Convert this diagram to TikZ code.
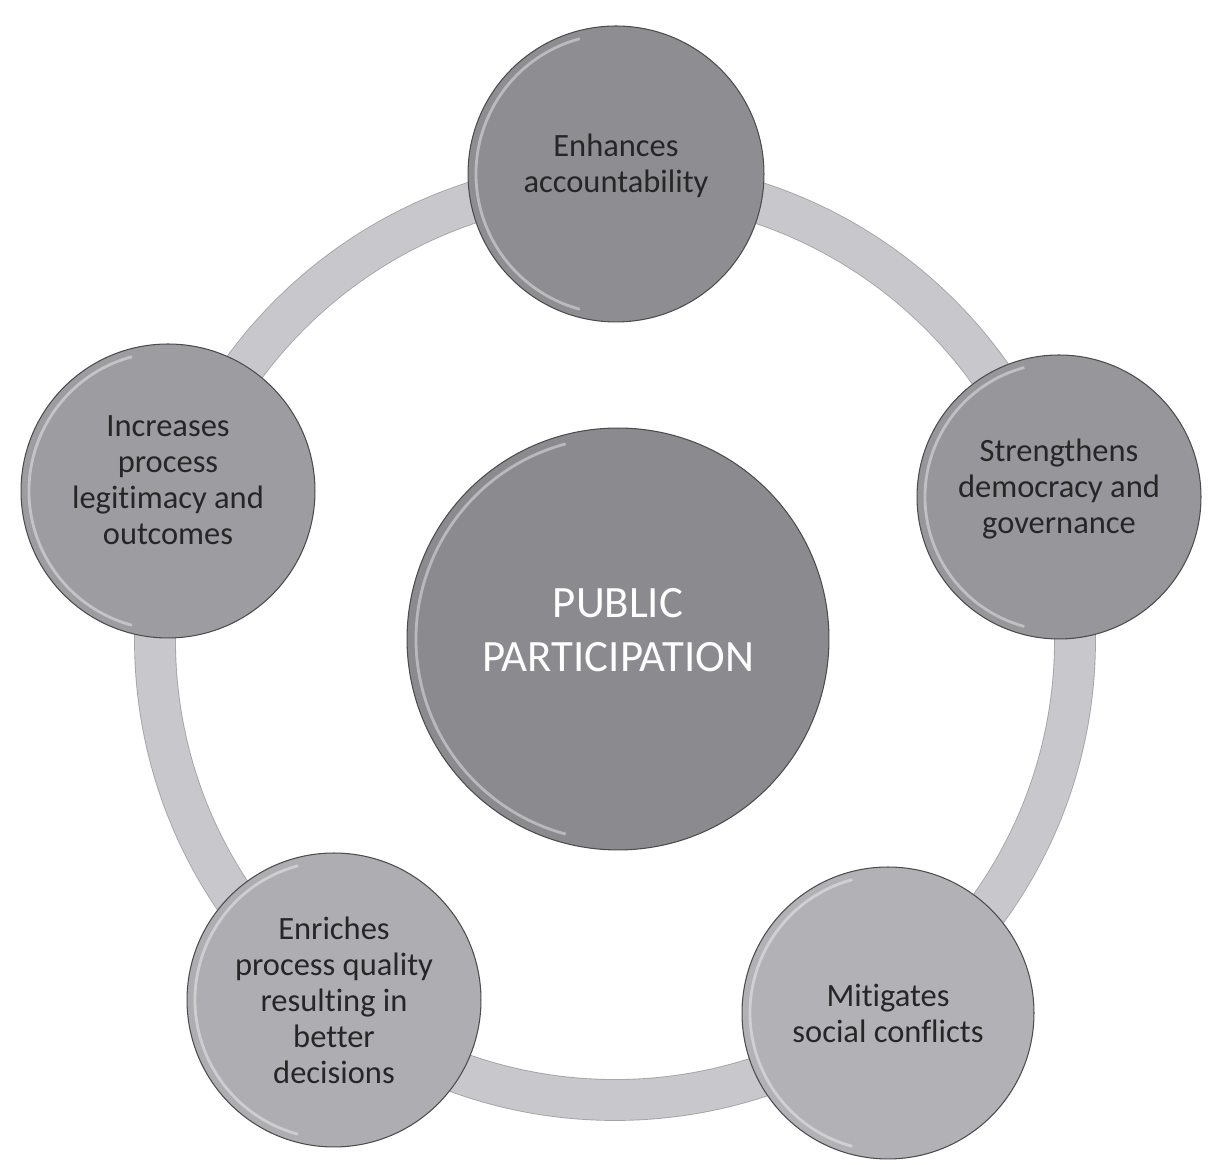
\documentclass[tikz,border=0pt]{standalone}
\usepackage{fontspec}
\setmainfont{Carlito}[Ligatures=NoCommon]
\definecolor{ringgray}{HTML}{C8C8CC}
\definecolor{ringedge}{HTML}{A4A4A8}
\definecolor{hubgray}{HTML}{8B8B8F}
\definecolor{topgray}{HTML}{8E8E92}
\definecolor{sidegray}{HTML}{97979B}
\definecolor{leftgray}{HTML}{9D9DA1}
\definecolor{lowgray}{HTML}{AEAEB2}
\tikzset{
	hub node/.style={circle, draw=black!70, line width=0.6pt, inner sep=0, fill=hubgray, text=white, align=center, font=\fontsize{25.5}{31}\selectfont},
	item node/.style={circle, draw=black!70, line width=0.6pt, inner sep=0, text=black!85, align=center, font=\fontsize{18.5}{20.5}\selectfont},
	ring band/.style={draw=ringedge, line width=0.5pt, double=ringgray, double distance=0.8cm},
	shine/.style={white, opacity=0.4, line width=1.6pt},
}
\begin{document}
\begin{tikzpicture}[x=0.02cm, y=0.02cm]
  \useasboundingbox (0,0) rectangle (1220,1165);
  \fill[white] (0,0) rectangle (1220,1165);

  % ring behind everything
  \coordinate (mid) at (615,525);
  \draw[ring band] (mid) circle[radius=460];

  % centre
  \node[hub node, minimum size=8.44cm] (hub) at (618,526) {PUBLIC\\PARTICIPATION\\[-21pt]};

  % benefits round the ring
  \node[item node, fill=topgray, minimum size=5.92cm] (acc) at (616,991) {Enhances\\accountability\\[-8pt]};
  \node[item node, fill=sidegray, minimum size=5.68cm] (dem) at (1059,668) {Strengthens\\democracy and\\governance\\[-8pt]};
  \node[item node, fill=leftgray, minimum size=5.88cm] (leg) at (168,674) {Increases\\process\\legitimacy and\\outcomes\\[-8pt]};
  \node[item node, fill=lowgray, minimum size=5.88cm] (qual) at (334,165) {Enriches\\process quality\\resulting in\\better\\decisions};
  \node[item node, fill=lowgray!95!white, minimum size=5.84cm] (conf) at (888,152) {Mitigates\\social conflicts};

  % bevel highlights
  \foreach \n/\r in {hub/202, acc/140, dem/134, leg/139, qual/139, conf/138}
    \draw[shine] (\n.center) ++(105:\r) arc[start angle=105, end angle=255, radius=\r];

\end{tikzpicture}
\end{document}
